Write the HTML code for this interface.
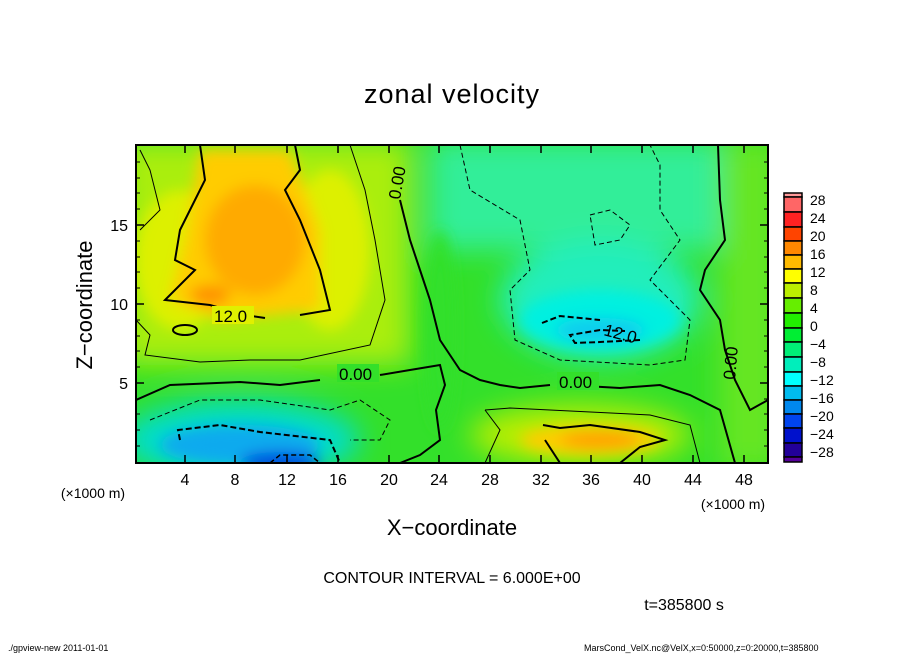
<!DOCTYPE html>
<html><head><meta charset="utf-8"><style>
body{margin:0;background:#fff;width:904px;height:654px;overflow:hidden;font-family:"Liberation Sans",sans-serif}
svg text{font-family:"Liberation Sans",sans-serif}
</style></head><body>
<svg width="904" height="654" viewBox="0 0 904 654" xmlns="http://www.w3.org/2000/svg">
<defs>
<clipPath id="c"><rect x="136" y="145" width="632" height="318"/></clipPath>
<filter id="b" x="-50%" y="-50%" width="200%" height="200%"><feGaussianBlur stdDeviation="14"/></filter>
<filter id="b2" x="-50%" y="-50%" width="200%" height="200%"><feGaussianBlur stdDeviation="7"/></filter>
</defs>
<text x="452" y="103" font-size="27" text-anchor="middle" letter-spacing="1">zonal velocity</text>
<g clip-path="url(#c)">
<rect x="136" y="145" width="632" height="318" fill="#33e02a"/>
<g filter="url(#b)">
<rect x="120" y="140" width="290" height="225" fill="#aaee11"/>
<rect x="430" y="140" width="290" height="110" fill="#33ee99"/>
<ellipse cx="600" cy="300" rx="100" ry="60" fill="#22eebb"/>
<rect x="720" y="140" width="60" height="330" fill="#66e622"/>
<ellipse cx="240" cy="440" rx="120" ry="40" fill="#00ddcc"/>
<ellipse cx="580" cy="435" rx="110" ry="30" fill="#bbee00"/>
</g>
<g filter="url(#b2)">
<ellipse cx="180" cy="260" rx="45" ry="70" fill="#ddf000"/>
<ellipse cx="330" cy="250" rx="40" ry="80" fill="#ddf000"/>
<path d="M200 150 L290 150 L320 230 L320 310 L220 320 L170 300 L185 240 Z" fill="#ffcc00"/>
<ellipse cx="255" cy="240" rx="50" ry="55" fill="#ffaa00"/>
<ellipse cx="210" cy="295" rx="20" ry="10" fill="#ff9000"/>
<ellipse cx="600" cy="320" rx="80" ry="30" fill="#00f0e0"/>
<ellipse cx="600" cy="330" rx="45" ry="12" fill="#11ccee"/>
<ellipse cx="590" cy="440" rx="70" ry="14" fill="#ffcc00"/>
<ellipse cx="600" cy="440" rx="40" ry="8" fill="#ffa000"/>
<ellipse cx="240" cy="445" rx="80" ry="20" fill="#11aaee"/>
<ellipse cx="280" cy="462" rx="40" ry="10" fill="#0044dd"/>
<ellipse cx="440" cy="330" rx="15" ry="100" fill="#33e02a"/>
</g>
<g fill="none" stroke="#000">
<path d="M200 145 L205 180 L180 230 L175 260 L195 270 L165 300 L210 305 L245 315 L265 318 M300 315 L330 310 L320 270 L300 220 L285 190 L300 170 L295 145" stroke-width="2"/>
<ellipse cx="185" cy="330" rx="12" ry="5" stroke-width="2"/>
<path d="M136 400 L170 385 L240 382 L280 385 L320 380 M380 375 L410 370 L440 365 L445 385 L436 410 L440 440 L420 455 L400 463" stroke-width="2"/>
<path d="M400 200 L410 240 L420 270 L430 300 L440 340 L460 370 L480 380 L500 385 L520 388 L550 385 M585 386 L620 388 L660 385 L690 395 L720 410 L735 463" stroke-width="2"/>
<path d="M718 145 L720 200 L725 240 L705 270 L700 290 L720 320 L725 350 L735 380 L750 410 L768 400" stroke-width="2"/>
<path d="M543 425 L560 428 L590 425 L640 432 L665 440 L640 447 L620 463 M560 463 L545 440 Z" stroke-width="2"/>
<path d="M542 323 L560 316 L600 320 M640 340 L600 342 L575 343 L570 335 L600 330 L625 331" stroke-width="2" stroke-dasharray="6 3"/>
<path d="M180 440 L178 430 L220 425 L260 432 L330 440 L340 463" stroke-width="2" stroke-dasharray="6 3"/>
<path d="M270 463 L280 455 L310 455 L320 463" stroke-width="1.5" stroke-dasharray="5 3"/>
<path d="M140 150 L150 170 L160 210 L140 230 M136 320 L150 335 L145 355 L200 362 L250 360 L300 360 L370 345 L385 300 L375 240 L365 190 L350 145" stroke-width="1"/>
<path d="M460 145 L470 190 L520 220 L530 270 L510 290 L515 340 L560 360 L650 365 L685 360 L690 320 L670 300 L650 280 L680 240 L660 210 L660 165 L650 145" stroke-width="1" stroke-dasharray="5 3"/>
<path d="M590 215 L610 210 L630 225 L620 240 L595 245 Z" stroke-width="1" stroke-dasharray="5 3"/>
<path d="M150 420 L200 400 L260 400 L330 410 L360 400 L390 420 L380 440 L350 440" stroke-width="1" stroke-dasharray="5 3"/>
<path d="M485 410 L510 408 L550 410 L650 415 L690 425 L700 463 M485 410 L500 430 L485 463" stroke-width="1"/>
</g>
<g font-size="17" fill="#000">
<rect x="212" y="306" width="42" height="18" fill="#e0f000"/><text x="214" y="322">12.0</text>
<rect x="337" y="364" width="42" height="18" fill="#33e02a"/><text x="339" y="380">0.00</text>
<rect x="557" y="372" width="42" height="18" fill="#33e02a"/><text x="559" y="388">0.00</text>
<text x="603" y="335" transform="rotate(15 603 335)">12.0</text>
<text x="400" y="200" transform="rotate(-80 400 200)">0.00</text>
<text x="735" y="380" transform="rotate(-85 735 380)">0.00</text>
</g>
</g>
<rect x="136" y="145" width="632" height="318" fill="none" stroke="#000" stroke-width="2"/>
<g stroke="#000" stroke-width="1.5">
<path d="M185 145v8M235 145v8M287 145v8M338 145v8M389 145v8M439 145v8M490 145v8M541 145v8M591 145v8M642 145v8M693 145v8M744 145v8
M185 463v-8M235 463v-8M287 463v-8M338 463v-8M389 463v-8M439 463v-8M490 463v-8M541 463v-8M591 463v-8M642 463v-8M693 463v-8M744 463v-8
M136 383h8M136 304h8M136 225h8M768 383h-8M768 304h-8M768 225h-8"/>
</g>
<g stroke="#000" stroke-width="1">
<path d="M136 430h4M136 399h4M136 367h4M136 351h4M136 336h4M136 320h4M136 288h4M136 272h4M136 257h4M136 241h4M136 209h4M136 193h4M136 178h4M136 162h4M136 446h4M136 414h4
M768 430h-4M768 399h-4M768 367h-4M768 351h-4M768 336h-4M768 320h-4M768 288h-4M768 272h-4M768 257h-4M768 241h-4M768 209h-4M768 193h-4M768 178h-4M768 162h-4M768 446h-4M768 414h-4"/>
</g>
<g font-size="16" text-anchor="middle">
<text x="185" y="485">4</text><text x="235" y="485">8</text><text x="287" y="485">12</text><text x="338" y="485">16</text><text x="389" y="485">20</text><text x="439" y="485">24</text><text x="490" y="485">28</text><text x="541" y="485">32</text><text x="591" y="485">36</text><text x="642" y="485">40</text><text x="693" y="485">44</text><text x="744" y="485">48</text>
</g>
<g font-size="16" text-anchor="end">
<text x="128" y="389">5</text><text x="128" y="310">10</text><text x="128" y="231">15</text>
</g>
<text x="93" y="498" font-size="14" text-anchor="middle">(×1000 m)</text>
<text x="733" y="509" font-size="14" text-anchor="middle">(×1000 m)</text>
<text x="452" y="535" font-size="22" text-anchor="middle">X−coordinate</text>
<text x="0" y="0" font-size="22" text-anchor="middle" transform="translate(92 305) rotate(-90)">Z−coordinate</text>
<text x="452" y="583" font-size="16" text-anchor="middle">CONTOUR INTERVAL = 6.000E+00</text>
<text x="684" y="610" font-size="16" text-anchor="middle">t=385800 s</text>
<text x="8" y="651" font-size="9">./gpview-new   2011-01-01</text>
<text x="584" y="651" font-size="9">MarsCond_VelX.nc@VelX,x=0:50000,z=0:20000,t=385800</text>
<g stroke="#000" stroke-width="1.5">
<rect x="784" y="193" width="18" height="4" fill="#ff9999"/>
<rect x="784" y="197" width="18" height="15" fill="#ff6666"/>
<rect x="784" y="212" width="18" height="15" fill="#ff2222"/>
<rect x="784" y="227" width="18" height="14" fill="#ff4400"/>
<rect x="784" y="241" width="18" height="14" fill="#ff8800"/>
<rect x="784" y="255" width="18" height="14" fill="#ffbb00"/>
<rect x="784" y="269" width="18" height="14" fill="#ffff00"/>
<rect x="784" y="283" width="18" height="15" fill="#bbee00"/>
<rect x="784" y="298" width="18" height="15" fill="#66ee00"/>
<rect x="784" y="313" width="18" height="15" fill="#22ee00"/>
<rect x="784" y="328" width="18" height="14" fill="#00ee33"/>
<rect x="784" y="342" width="18" height="15" fill="#00ee77"/>
<rect x="784" y="357" width="18" height="15" fill="#00eebb"/>
<rect x="784" y="372" width="18" height="14" fill="#00ffff"/>
<rect x="784" y="386" width="18" height="14" fill="#00bbee"/>
<rect x="784" y="400" width="18" height="14" fill="#0088ee"/>
<rect x="784" y="414" width="18" height="14" fill="#0044ee"/>
<rect x="784" y="428" width="18" height="15" fill="#0011cc"/>
<rect x="784" y="443" width="18" height="14" fill="#220099"/>
<rect x="784" y="457" width="18" height="5" fill="#550099"/>
</g>
<g font-size="14">
<text x="810" y="205">28</text><text x="810" y="223">24</text><text x="810" y="241">20</text><text x="810" y="259">16</text><text x="810" y="277">12</text><text x="810" y="295">8</text><text x="810" y="313">4</text><text x="810" y="331">0</text><text x="810" y="349">−4</text><text x="810" y="367">−8</text><text x="810" y="385">−12</text><text x="810" y="403">−16</text><text x="810" y="421">−20</text><text x="810" y="439">−24</text><text x="810" y="457">−28</text>
</g>
</svg>
</body></html>
